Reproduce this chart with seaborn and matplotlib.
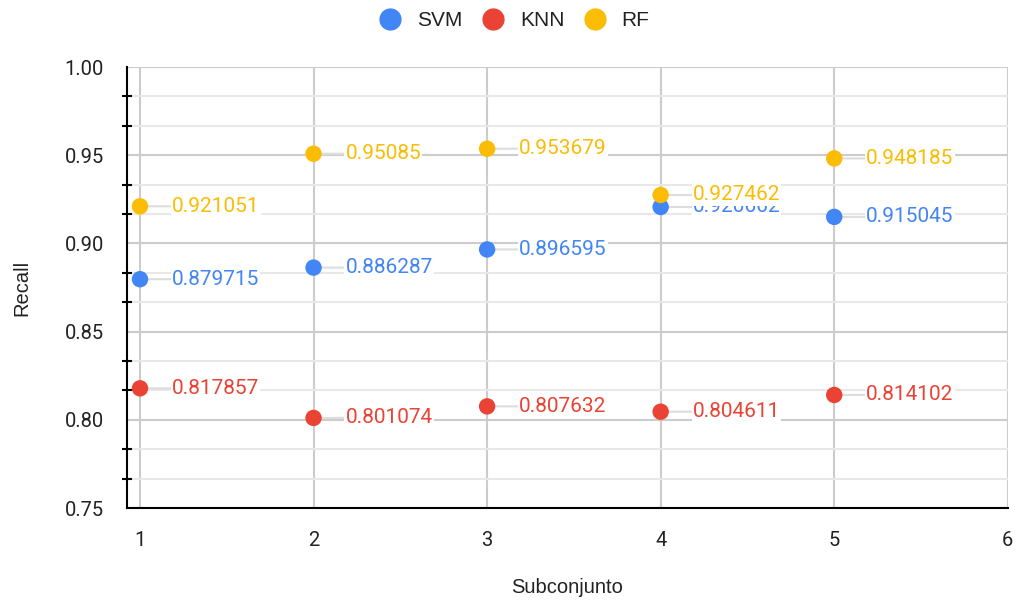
import pandas as pd
import matplotlib.pyplot as plt
import seaborn as sns
from matplotlib.ticker import MultipleLocator

# Data
subsets = [1, 2, 3, 4, 5]
svm = [0.879715, 0.886287, 0.896595, 0.920662, 0.915045]
knn = [0.817857, 0.801074, 0.807632, 0.804611, 0.814102]
rf = [0.921051, 0.95085, 0.953679, 0.927462, 0.948185]
models = ['SVM', 'KNN', 'RF']
colors = {'SVM': '#4285F4', 'KNN': '#EA4335', 'RF': '#FBBC04'}

df = pd.DataFrame({
    'Subconjunto': subsets * 3,
    'Recall': svm + knn + rf,
    'Modelo': ['SVM'] * 5 + ['KNN'] * 5 + ['RF'] * 5,
})

sns.set_style('white')
plt.rcParams['font.family'] = ['Roboto', 'DejaVu Sans']

fig = plt.figure(figsize=(10.19, 6.05), dpi=100)
ax = fig.add_axes([0.1246, 0.1603, 0.8644, 0.7289])

sns.scatterplot(data=df, x='Subconjunto', y='Recall', hue='Modelo',
                hue_order=models, palette=colors, s=140, linewidth=0,
                ax=ax, zorder=6, legend=False)

# value labels with a thin leader line
for _, row in df.iterrows():
    ax.annotate(f"{row['Recall']:g}", (row['Subconjunto'], row['Recall']),
                xytext=(23, 0), textcoords='offset points', va='center',
                ha='left', fontsize=15, color=colors[row['Modelo']], zorder=5,
                bbox=dict(boxstyle='square,pad=0.05', fc='white', ec='none'),
                arrowprops=dict(arrowstyle='-', color='#dddddd', lw=1.5,
                                shrinkA=0, shrinkB=0))

ax.set_xlim(0.925, 6)
ax.set_ylim(0.75, 1.0)
ax.xaxis.set_major_locator(MultipleLocator(1))
ax.yaxis.set_major_locator(MultipleLocator(0.05))
ax.yaxis.set_minor_locator(MultipleLocator(0.05 / 3))
ax.yaxis.set_major_formatter(plt.FormatStrFormatter('%.2f'))

ax.grid(True, which='major', color='#cccccc', lw=1.5, zorder=0)
ax.grid(True, which='minor', axis='y', color='#e8e8e8', lw=1.5, zorder=0)
ax.set_axisbelow(True)

for s in ['top', 'right']:
    ax.spines[s].set_visible(False)
for s in ['left', 'bottom']:
    ax.spines[s].set_color('black')
    ax.spines[s].set_linewidth(1.5)

ax.tick_params(axis='both', which='major', direction='inout', length=15,
               width=1.5, color='black', labelsize=14.5, labelcolor='#222222')
ax.tick_params(axis='y', which='minor', direction='inout', length=7,
               width=1.5, color='black', left=True)
ax.tick_params(axis='x', pad=9)
ax.tick_params(axis='y', which='major', pad=9)

ax.set_xlabel('Subconjunto', fontsize=14.5, color='#222222', labelpad=20,
              family=['Liberation Sans', 'DejaVu Sans'])
ax.set_ylabel('Recall', fontsize=14.5, color='#222222', labelpad=24,
              family=['Liberation Sans', 'DejaVu Sans'])

# legend on top
handles = [plt.Line2D([], [], marker='o', ls='', ms=15, color=colors[m]) for m in models]
fig.legend(handles, models, loc='upper center', bbox_to_anchor=(0.5, 1.012),
           ncol=3, frameon=False, handletextpad=0.3, columnspacing=0.45,
           labelcolor='#222222',
           prop={'family': ['Liberation Sans', 'DejaVu Sans'], 'size': 15})

fig.savefig('out.png', dpi=100)
